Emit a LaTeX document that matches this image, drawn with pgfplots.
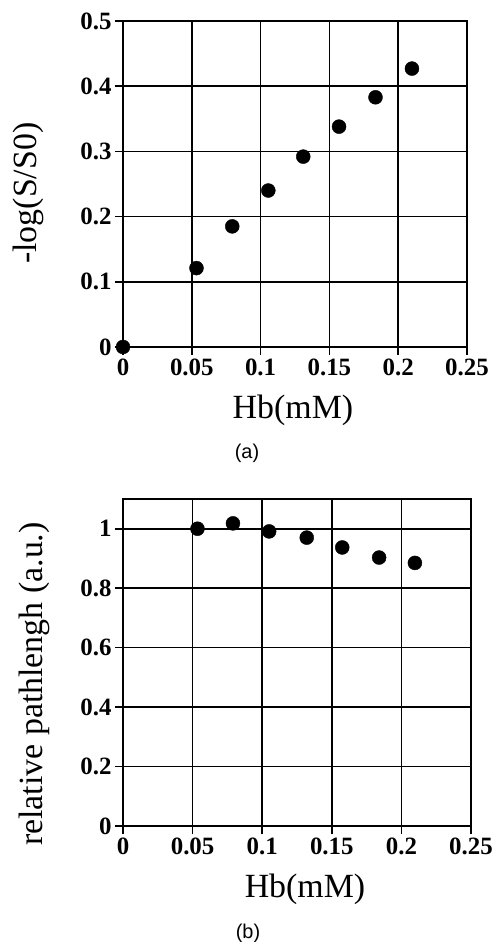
\documentclass[border=0pt]{standalone}
\usepackage{fontspec}
\setmainfont{Liberation Serif}
\newfontfamily\capfont{Liberation Sans}
\usepackage{pgfplots}
\pgfplotsset{compat=1.18}

\pgfplotsset{
  panel/.style={
    scale only axis,
    anchor=south west,
    xmin=0, xmax=0.25,
    xtick={0,0.05,0.1,0.15,0.2,0.25},
    xticklabels={0,0.05,0.1,0.15,0.2,0.25},
    grid=major,
    grid style={black, line width=1.7bp},
    axis line style={black, line width=2.4bp},
    tick align=outside,
    major tick length=8bp,
    tick style={black, line width=1.7bp},
    xtick pos=left, ytick pos=left,
    ticklabel style={font=\bfseries\fontsize{25}{25}\selectfont},
    /pgf/number format/assume math mode=true,
    label style={font=\fontsize{34}{34}\selectfont},
    xlabel style={anchor=base},
    ylabel style={anchor=base},
  },
  dots/.style={only marks, mark=*, mark size=7bp, black},
}

\begin{document}
\begin{tikzpicture}
\useasboundingbox (0,0) rectangle (493bp,942bp);

% (a) attenuation vs Hb concentration
\begin{axis}[panel,
    at={(123bp,595bp)}, width=344bp, height=326bp,
    ymin=0, ymax=0.5,
    ytick={0,0.1,0.2,0.3,0.4,0.5},
    yticklabels={0,0.1,0.2,0.3,0.4,0.5},
    xlabel={Hb(mM)},
    ylabel={-log(S/S0)},
    xlabel style={at={(axis description cs:0.494,-0.218)}},
    ylabel style={at={(axis description cs:-0.25,0.472)}},
]
\addplot[dots] coordinates {
  (0,0) (0.0534,0.121) (0.0794,0.185) (0.1056,0.240) (0.131,0.292)
  (0.157,0.338) (0.1835,0.383) (0.210,0.427)
};
\end{axis}

% (b) relative pathlength
\begin{axis}[panel,
    at={(123bp,116bp)}, width=348bp, height=327bp,
    ymin=0, ymax=1.1,
    ytick={0,0.2,0.4,0.6,0.8,1},
    yticklabels={0,0.2,0.4,0.6,0.8,1},
    xlabel={Hb(mM)},
    ylabel={relative pathlengh (a.u.)},
    xlabel style={at={(axis description cs:0.523,-0.220)}},
    ylabel style={at={(axis description cs:-0.23,0.434)}},
]
\addplot[dots] coordinates {
  (0.0535,1.000) (0.079,1.018) (0.105,0.991) (0.132,0.970)
  (0.1575,0.937) (0.184,0.903) (0.2097,0.885)
};
\end{axis}

\node[font=\capfont\fontsize{20}{20}\selectfont] at (247bp,489bp) {(a)};
\node[font=\capfont\fontsize{20}{20}\selectfont] at (248bp,9bp) {(b)};
\end{tikzpicture}
\end{document}
